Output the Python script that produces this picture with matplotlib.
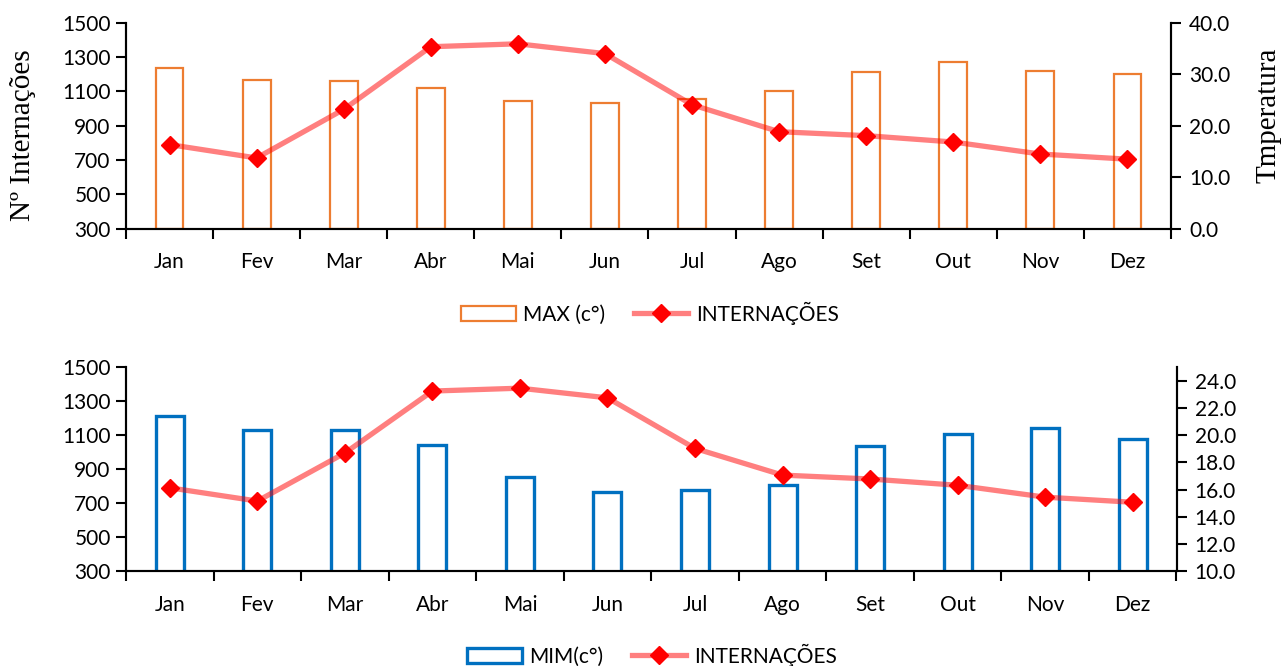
import matplotlib
matplotlib.use("Agg")
import matplotlib.pyplot as plt
from matplotlib.ticker import FormatStrFormatter
import numpy as np

# Monthly hospital admissions and max / min temperatures
meses = ["Jan", "Fev", "Mar", "Abr", "Mai", "Jun", "Jul", "Ago", "Set", "Out", "Nov", "Dez"]
internacoes = [790, 712, 995, 1360, 1377, 1320, 1022, 865, 842, 805, 735, 705]
temp_max = [31.3, 28.9, 28.7, 27.3, 24.7, 24.5, 25.2, 26.7, 30.4, 32.3, 30.6, 30.1]
temp_min = [21.4, 20.4, 20.4, 19.3, 16.9, 15.8, 16.0, 16.3, 19.2, 20.1, 20.5, 19.7]

SANS = ["Lato", "DejaVu Sans"]
SERIF = ["Liberation Serif", "DejaVu Serif"]
FS = 15

plt.rcParams["font.family"] = SANS
plt.rcParams["font.size"] = FS

W, H = 1284, 666
fig = plt.figure(figsize=(W / 100, H / 100), dpi=100)


def painel(rect, temps, bar_color, bar_lw, bar_label, tlim, tticks):
    ax = fig.add_axes(rect)
    ax2 = ax.twinx()
    x = np.arange(len(meses))

    ax2.bar(x, temps, width=0.32, facecolor="white", edgecolor=bar_color,
            linewidth=bar_lw, label=bar_label)
    ax.plot(x, internacoes, color=(1, 0, 0, 0.5), linewidth=3.8,
            marker="D", markersize=9, markerfacecolor="red",
            markeredgecolor="red", label="INTERNAÇÕES")

    # line above the bars
    ax.set_zorder(ax2.get_zorder() + 1)
    ax.patch.set_visible(False)

    ax.set_xlim(-0.5, len(meses) - 0.5)
    ax.set_ylim(300, 1500)
    ax.set_yticks(np.arange(300, 1501, 200))
    ax2.set_ylim(*tlim)
    ax2.set_yticks(tticks)
    ax2.yaxis.set_major_formatter(FormatStrFormatter("%.1f"))

    # category ticks sit between months, labels centred on months
    ax.set_xticks(np.arange(-0.5, len(meses), 1.0))
    ax.set_xticklabels([])
    ax.set_xticks(x, minor=True)
    ax.set_xticklabels(meses, minor=True)
    ax.tick_params(axis="x", which="major", direction="out", length=7, width=1.5)
    ax.tick_params(axis="x", which="minor", length=0, pad=17, labelsize=FS)
    ax.tick_params(axis="y", direction="out", length=7, width=1.5, labelsize=FS, pad=4)
    ax2.tick_params(axis="y", direction="out", length=7, width=1.5, labelsize=FS, pad=6)

    for a in (ax, ax2):
        a.spines["top"].set_visible(False)
        for s in ("left", "right", "bottom"):
            a.spines[s].set_linewidth(1.5)

    h1, l1 = ax2.get_legend_handles_labels()
    h2, l2 = ax.get_legend_handles_labels()
    return ax, h1 + h2, l1 + l2


ax_top, h, l = painel([126 / W, 1 - 228.7 / H, (1171 - 126) / W, 206 / H],
                      temp_max, "#ED7D31", 1.6, "MAX (c°)",
                      (0, 40), np.arange(0, 40.1, 10))
fig.legend(h, l, loc="center", bbox_to_anchor=(650 / W, 1 - 313 / H),
           ncol=2, frameon=False, fontsize=FS, handlelength=2.6,
           handleheight=0.7, columnspacing=1.4, handletextpad=0.35)

# axis titles of the upper panel
fig.text(23 / W, 1 - 135 / H, "Nº Internações", family=SERIF, fontsize=21,
         rotation=90, ha="center", va="center")
fig.text(1269 / W, 1 - 115.5 / H, "Tmperatura", family=SERIF, fontsize=21,
         rotation=90, ha="center", va="center")

ax_bot, h, l = painel([126 / W, 1 - 571 / H, (1176.5 - 126) / W, 203.7 / H],
                      temp_min, "#0070C0", 2.4, "MIM(c°)",
                      (10, 25), np.arange(10, 24.1, 2))
fig.legend(h, l, loc="center", bbox_to_anchor=(652 / W, 1 - 655 / H),
           ncol=2, frameon=False, fontsize=FS, handlelength=2.6,
           handleheight=0.7, columnspacing=1.4, handletextpad=0.35)

fig.savefig("out.png", dpi=100)
